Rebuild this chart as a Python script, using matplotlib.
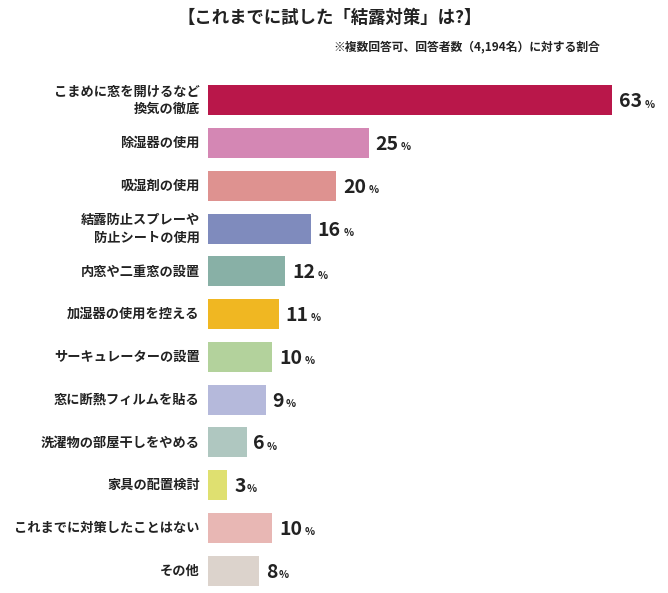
import matplotlib
matplotlib.use("Agg")
import matplotlib.pyplot as plt

plt.rcParams['font.family'] = ['Noto Sans CJK JP', 'DejaVu Sans']

labels = ["こまめに窓を開けるなど\n換気の徹底", "除湿器の使用", "吸湿剤の使用", "結露防止スプレーや\n防止シートの使用",
          "内窓や二重窓の設置", "加湿器の使用を控える", "サーキュレーターの設置", "窓に断熱フィルムを貼る",
          "洗濯物の部屋干しをやめる", "家具の配置検討", "これまでに対策したことはない", "その他"]
values = [63, 25, 20, 16, 12, 11, 10, 9, 6, 3, 10, 8]
colors = ["#b9174a", "#d487b4", "#de9290", "#7f8bbd", "#88b0a6", "#f0b722",
          "#b3d29c", "#b5b9db", "#afc7c0", "#dfe070", "#e8b7b4", "#dcd3cc"]

W, H = 668, 593
fig = plt.figure(figsize=(W / 100, H / 100), dpi=100)
# axes spans bar area: left 208px, top ~79, bottom ~592
ax = fig.add_axes([208 / W, 1 - 592 / H, 440 / W, (592 - 79) / H])
n = len(values)
ypos = list(range(n))
ax.barh(ypos, values, height=0.7, color=colors, left=0)
ax.set_ylim(n - 0.5, -0.5)
ax.set_xlim(0, 440 / 6.42)
ax.axis('off')

for y, v, lab in zip(ypos, values, labels):
    ax.text(-1.3, y, lab, ha='right', va='center', fontsize=9.5, fontweight='bold',
            color='#222222', linespacing=1.3)
    s = str(v)
    ax.annotate(s, (v, y), xytext=(5, -1), textcoords='offset points', ha='left', va='center',
                fontsize=14, fontweight='bold', color='#222222')
    ax.annotate('%', (v, y), xytext=(5 + 9.2 * len(s), -3), textcoords='offset points',
                ha='left', va='center', fontsize=7.5, fontweight='bold', color='#222222')

fig.text(330 / W, 1 - 18 / H, "【これまでに試した「結露対策」は?】", ha='center', va='center',
         fontsize=12.5, fontweight='bold', color='#222222')
fig.text(600 / W, 1 - 47 / H, "※複数回答可、回答者数（4,194名）に対する割合", ha='right', va='center',
         fontsize=8.5, fontweight='bold', color='#222222')

fig.savefig("out.png", dpi=100, facecolor='white')
